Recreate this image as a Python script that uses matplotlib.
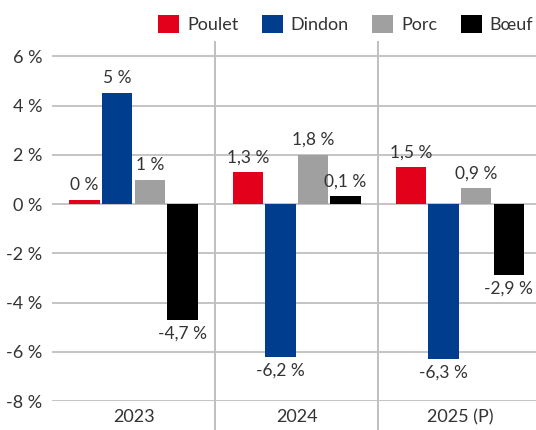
import matplotlib.pyplot as plt
from matplotlib.ticker import FuncFormatter

years = ['2023', '2024', '2025 (P)']
series = ['Poulet', 'Dindon', 'Porc', 'Bœuf']
colors = ['#e2001a', '#003d8f', '#a0a0a0', '#000000']

# bar heights as drawn, labels as printed (they are rounded differently in the source)
poulet = [0.15, 1.3, 1.5]
dindon = [4.5, -6.2, -6.3]
porc = [0.97, 2.0, 0.65]
boeuf = [-4.7, 0.32, -2.9]

poulet_labels = ['0 %', '1,3 %', '1,5 %']
dindon_labels = ['5 %', '-6,2 %', '-6,3 %']
porc_labels = ['1 %', '1,8 %', '0,9 %']
boeuf_labels = ['-4,7 %', '0,1 %', '-2,9 %']

yticks = [-8, -6, -4, -2, 0, 2, 4, 6]


def main():
    plt.rcParams['font.family'] = ['Lato', 'DejaVu Sans']
    plt.rcParams['font.size'] = 13
    text_color = '#333333'
    grid_color = '#bfbfbf'

    fig = plt.figure(figsize=(5.36, 4.3), dpi=100)
    ax = fig.add_axes([0.097, 0.0674, 0.913, 0.8346])

    values = [poulet, dindon, porc, boeuf]
    labels = [poulet_labels, dindon_labels, porc_labels, boeuf_labels]
    offsets = [-0.3, -0.1, 0.1, 0.3]
    width = 0.186
    x = list(range(len(years)))

    for name, vals, labs, color, off in zip(series, values, labels, colors, offsets):
        xs = [i + off for i in x]
        ax.bar(xs, vals, width=width, color=color, label=name, zorder=3)
        for xi, v, lab in zip(xs, vals, labs):
            if v >= 0:
                ax.annotate(lab, (xi, v), xytext=(0, 5), textcoords='offset points',
                            ha='center', va='bottom', color=text_color, fontsize=12.5)
            else:
                ax.annotate(lab, (xi, v), xytext=(0, -4), textcoords='offset points',
                            ha='center', va='top', color=text_color, fontsize=12.5)

    ax.set_xlim(-0.5, 2.5)
    ax.set_ylim(-8, 6.58)
    ax.set_yticks(yticks)
    ax.yaxis.set_major_formatter(FuncFormatter(lambda v, pos: f'{v:.0f} %'))
    ax.yaxis.grid(True, color=grid_color, linewidth=1.3, zorder=0)
    ax.set_axisbelow(True)

    ax.set_xticks(x)
    ax.set_xticklabels(years)
    ax.tick_params(axis='both', length=0, colors=text_color, labelsize=13)
    ax.tick_params(axis='y', pad=7)
    ax.tick_params(axis='x', pad=6)

    for sep in [0.5, 1.5]:
        ax.axvline(sep, ymin=-0.09, ymax=1, color=grid_color, linewidth=1.4,
                   clip_on=False, zorder=1)

    for spine in ax.spines.values():
        spine.set_visible(False)

    ax.legend(loc='center right', bbox_to_anchor=(0.995, 0.944),
              bbox_transform=fig.transFigure, ncol=4, frameon=False,
              handlelength=1.15, handleheight=1.15, handletextpad=0.45,
              columnspacing=1.3, borderpad=0, borderaxespad=0,
              fontsize=13, labelcolor=text_color)

    plt.savefig('out.png', dpi=100)


if __name__ == '__main__':
    main()
